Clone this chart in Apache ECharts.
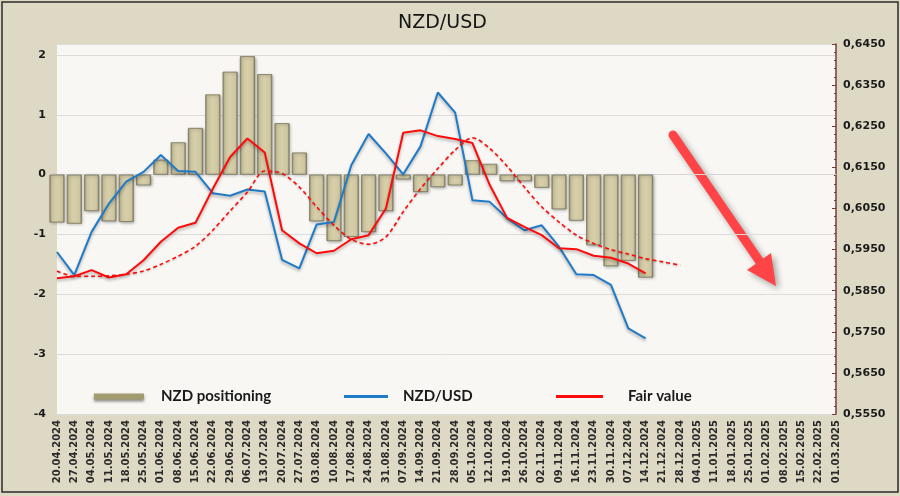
<!DOCTYPE html>
<html>
<head>
<meta charset="utf-8">
<script src="https://cdn.jsdelivr.net/npm/echarts@6/dist/echarts.min.js"></script>
<style>
html,body{margin:0;padding:0;background:#DDD9C4;}
#chart{width:900px;height:496px;}
</style>
</head>
<body>
<div id="chart"></div>
<script>
var categories = ['20.04.2024','27.04.2024','04.05.2024','11.05.2024','18.05.2024','25.05.2024','01.06.2024','08.06.2024','15.06.2024','22.06.2024','29.06.2024','06.07.2024','13.07.2024','20.07.2024','27.07.2024','03.08.2024','10.08.2024','17.08.2024','24.08.2024','31.08.2024','07.09.2024','14.09.2024','21.09.2024','28.09.2024','05.10.2024','12.10.2024','19.10.2024','26.10.2024','02.11.2024','09.11.2024','16.11.2024','23.11.2024','30.11.2024','07.12.2024','14.12.2024','21.12.2024','28.12.2024','04.01.2025','11.01.2025','18.01.2025','25.01.2025','01.02.2025','08.02.2025','15.02.2025','22.02.2025','01.03.2025'];

var positioning = [-0.80,-0.82,-0.61,-0.78,-0.79,-0.18,0.25,0.54,0.78,1.34,1.72,1.98,1.68,0.86,0.37,-0.78,-1.11,-1.04,-0.96,-0.61,-0.08,-0.29,-0.21,-0.18,0.24,0.18,-0.11,-0.11,-0.22,-0.58,-0.77,-1.18,-1.53,-1.44,-1.72];

var nzdusd = [0.5944,0.5888,0.5993,0.6062,0.6115,0.6139,0.6180,0.6141,0.6139,0.6087,0.6081,0.6096,0.6091,0.5925,0.5904,0.6011,0.6017,0.6155,0.6231,0.6184,0.6133,0.6201,0.6332,0.6283,0.6070,0.6066,0.6026,0.5997,0.6009,0.5957,0.5890,0.5888,0.5864,0.5758,0.5734];

var fairValue = [0.5880,0.5885,0.5900,0.5882,0.5890,0.5924,0.5969,0.6003,0.6015,0.6098,0.6175,0.6220,0.6186,0.5997,0.5965,0.5941,0.5947,0.5975,0.5985,0.6050,0.6234,0.6240,0.6226,0.6219,0.6209,0.6107,0.6027,0.6005,0.5985,0.5953,0.5951,0.5935,0.5930,0.5916,0.5892];

var fairTrend = [0.5898,0.5885,0.5885,0.5886,0.5890,0.5898,0.5914,0.5934,0.5958,0.5997,0.6044,0.6090,0.6141,0.6135,0.6102,0.6054,0.6009,0.5975,0.5963,0.5981,0.6042,0.6098,0.6147,0.6192,0.6222,0.6196,0.6153,0.6102,0.6054,0.6017,0.5985,0.5965,0.5950,0.5939,0.5928,0.5920,0.5912];

var chart = echarts.init(document.getElementById('chart'), null, {renderer:'canvas'});
var labelFont = 'DejaVu Sans';
var legendFont = 'Lato';
var legendText = {fontFamily: legendFont, fontWeight: 'bold', fontSize: 15, color: '#1a1a1a'};

var option = {
  backgroundColor: '#DDD9C4',
  animation: false,
  title: {
    text: 'NZD/USD', left: 393, top: 9,
    textStyle: {fontFamily: labelFont, fontSize: 19, fontWeight: 'normal', color: '#151515'}
  },
  grid: {left: 57, right: 64, top: 44, bottom: 82, show: true, backgroundColor: '#F8F7F3', borderWidth: 0},
  legend: [
    {left: 89, top: 384, itemWidth: 50, itemHeight: 6, selectedMode: false,
     data: [{name: 'NZD positioning', icon: 'rect', itemStyle: {color: '#A29B70', borderWidth: 0, shadowBlur: 3, shadowColor: 'rgba(0,0,0,0.45)', shadowOffsetY: 2}}],
     textStyle: Object.assign({padding: [0,0,0,12]}, legendText)},
    {left: 339, top: 384, itemWidth: 44, itemHeight: 3, selectedMode: false,
     data: [{name: 'NZD/USD', icon: 'rect', itemStyle: {color: '#1F7AC8', borderWidth: 0}}],
     textStyle: Object.assign({padding: [0,0,0,10]}, legendText)},
    {left: 551, top: 384, itemWidth: 47, itemHeight: 3, selectedMode: false,
     data: [{name: 'Fair value', icon: 'rect', itemStyle: {color: '#FF0A0A', borderWidth: 0}}],
     textStyle: Object.assign({padding: [0,0,0,20]}, legendText)}
  ],
  xAxis: {
    type: 'category', data: categories, boundaryGap: false,
    axisLine: {show: true, lineStyle: {color: '#D6D6D6'}},
    axisTick: {show: false},
    axisLabel: {rotate: 90, interval: 0, fontFamily: labelFont, fontWeight: 'bold', fontSize: 10, color: '#2a2a2a', margin: 6},
    splitLine: {show: false}
  },
  yAxis: [
    {type: 'value', min: -4, max: 2.183, interval: 1,
     axisLine: {show: false}, axisTick: {show: false},
     axisLabel: {showMaxLabel: false, fontFamily: labelFont, fontWeight: 'bold', fontSize: 11, color: '#1a1a1a', margin: 11},
     splitLine: {show: true, lineStyle: {color: '#DCDCDC', width: 1}}},
    {type: 'value', position: 'right', min: 0.555, max: 0.645, interval: 0.01,
     axisLine: {show: true, onZero: false, lineStyle: {color: '#7A3838', width: 1.5}},
     axisTick: {show: true, inside: true, length: 4, lineStyle: {color: '#7A3838'}},
     minorTick: {show: true, splitNumber: 5, length: 2, lineStyle: {color: '#7A3838'}},
     axisLabel: {fontFamily: labelFont, fontWeight: 'bold', fontSize: 11, color: '#1a1a1a', margin: 7,
       formatter: function (v) { return v.toFixed(4).replace('.', ','); }},
     splitLine: {show: false}}
  ],
  series: [
    {name: 'NZD positioning', type: 'bar', yAxisIndex: 0, data: positioning, barWidth: 15, clip: true,
     itemStyle: {
       color: new echarts.graphic.LinearGradient(0, 0, 1, 0, [
         {offset: 0, color: '#8F896B'}, {offset: 0.14, color: '#CEC69F'},
         {offset: 0.5, color: '#D6CFAA'}, {offset: 0.86, color: '#CEC69F'}, {offset: 1, color: '#85806A'}]),
       borderColor: '#7A765E', borderWidth: 0.8,
       shadowBlur: 3, shadowColor: 'rgba(0,0,0,0.3)', shadowOffsetX: 1, shadowOffsetY: 1
     }, z: 2},
    {name: 'NZD/USD', type: 'line', yAxisIndex: 1, data: nzdusd, symbol: 'none',
     lineStyle: {color: '#1F7AC8', width: 2, shadowBlur: 3, shadowColor: 'rgba(0,0,0,0.3)', shadowOffsetY: 2},
     itemStyle: {color: '#1F7AC8'}, z: 4},
    {name: 'Fair value', type: 'line', yAxisIndex: 1, data: fairValue, symbol: 'none',
     lineStyle: {color: '#FF0A0A', width: 2, shadowBlur: 3, shadowColor: 'rgba(0,0,0,0.3)', shadowOffsetY: 2},
     itemStyle: {color: '#FF0A0A'}, z: 5},
    {name: 'Fair value trend', type: 'line', yAxisIndex: 1, data: fairTrend, symbol: 'none', smooth: 0.3,
     lineStyle: {color: '#FF0A0A', width: 1.6, type: [4, 3], shadowBlur: 2, shadowColor: 'rgba(0,0,0,0.25)', shadowOffsetY: 1},
     itemStyle: {color: '#FF0A0A'}, z: 5}
  ],
  graphic: [
    {type: 'rect', shape: {x: 2, y: 2, width: 896, height: 490}, style: {fill: 'none', stroke: '#2b2b2b', lineWidth: 1.5}, silent: true, z: 100},
    {type: 'group', z: 50, silent: true, children: [
      {type: 'line', shape: {x1: 673, y1: 135, x2: 760, y2: 262},
       style: {stroke: '#FF4448', lineWidth: 9, lineCap: 'round', shadowBlur: 6, shadowColor: 'rgba(0,0,0,0.35)', shadowOffsetX: 3, shadowOffsetY: 3}},
      {type: 'polygon', shape: {points: [[776, 286], [747, 270], [771, 253]]},
       style: {fill: '#FF4448', shadowBlur: 6, shadowColor: 'rgba(0,0,0,0.35)', shadowOffsetX: 3, shadowOffsetY: 3}}
    ]}
  ]
};
chart.setOption(option);
</script>
</body>
</html>
